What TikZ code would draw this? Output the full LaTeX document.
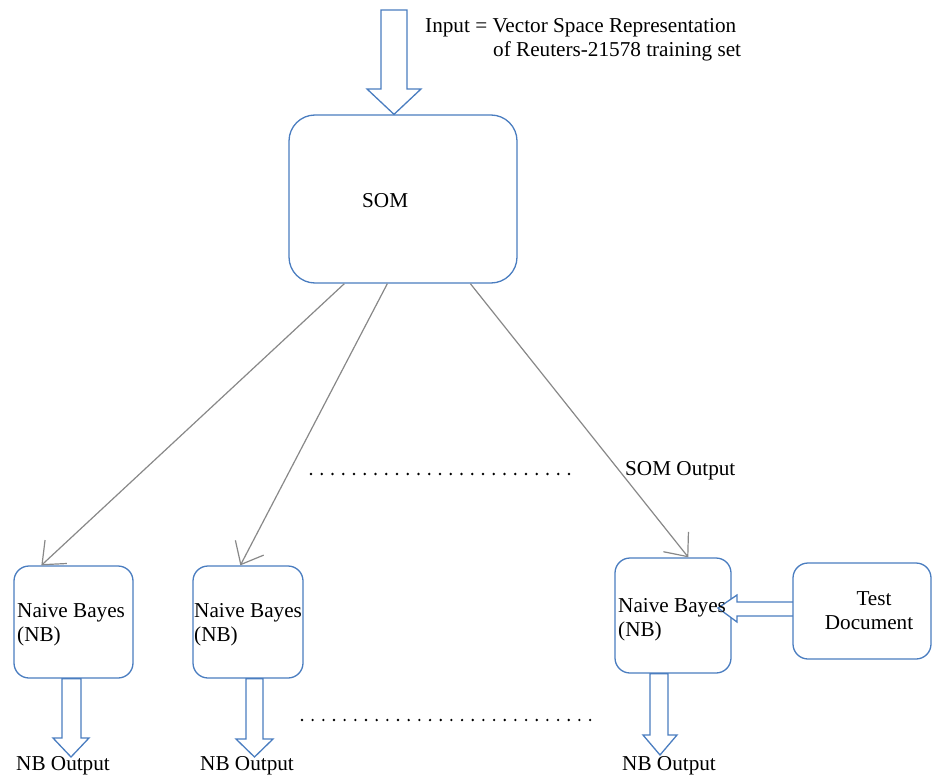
\documentclass[tikz,border=0pt]{standalone}
\usepackage{fontspec}
\setmainfont{Liberation Serif}
\usetikzlibrary{arrows.meta,calc}
\definecolor{boxblue}{HTML}{4A7DC0}
\definecolor{linegray}{HTML}{888888}
\tikzset{
  box/.style={draw=boxblue, line width=1.3pt, rounded corners=#1, inner sep=0pt, fill=white},
  lbl/.style={font=\fontsize{21.2}{24}\selectfont, inner sep=0pt, anchor=base west},
  clbl/.style={font=\fontsize{21.2}{24}\selectfont, inner sep=0pt, anchor=base},
  conn/.style={draw=linegray, line width=1.2pt, -{Straight Barb[length=19pt,width=32pt]}},
  blockarrow/.style={draw=boxblue, line width=1.3pt, fill=white, line join=miter},
}
\begin{document}
\begin{tikzpicture}[x=1pt,y=-1pt]
\useasboundingbox (0,0) rectangle (933,778);

% boxes
\node[box=26pt, minimum width=228pt, minimum height=168pt] (som) at (403,199) {};
\node[box=15pt, minimum width=119pt, minimum height=112pt] (nb1) at (73.5,622) {};
\node[box=15pt, minimum width=110pt, minimum height=112pt] (nb2) at (248,622) {};
\node[box=15pt, minimum width=116pt, minimum height=115pt] (nb3) at (673,615.5) {};

% input block arrow
\draw[blockarrow] (381,10) -- (407,10) -- (407,89) -- (421,89) -- (som.north -| 394,0) -- (367,89) -- (381,89) -- cycle;

% output block arrows
\draw[blockarrow] (nb1.south -| 62,0) -- (nb1.south -| 81,0) -- (81,738) -- (89,738) -- (71,757) -- (53,738) -- (62,738) -- cycle;
\draw[blockarrow] (nb2.south -| 246,0) -- (nb2.south -| 263,0) -- (263,739) -- (273,739) -- (254.5,757) -- (236,739) -- (246,739) -- cycle;
\draw[blockarrow] (nb3.south -| 650,0) -- (nb3.south -| 668,0) -- (668,735) -- (677,735) -- (660,755) -- (643,735) -- (650,735) -- cycle;

% test document arrow
\draw[blockarrow] (795,602) -- (737,602) -- (737,595) -- (718,608) -- (737,622) -- (737,616) -- (795,616) -- cycle;
\node[box=15pt, minimum width=138pt, minimum height=96pt] (test) at (862,611) {};

% connectors from SOM
\draw[conn] ($(som.south west)+(56,0)$) -- ($(nb1.north west)+(28,0)$);
\draw[conn] ($(som.south west)+(99,0)$) -- ($(nb2.north west)+(48,0)$);
\draw[conn] ($(som.south west)+(182,0)$) -- ($(nb3.north west)+(74,0)$);

% texts
\node[lbl] (somlbl) at (362,207) {SOM};
\node[lbl] (in1) at (425,33) {Input = Vector Space Representation};
\node[lbl] (in2) at (493,57) {of Reuters-21578 training set};
\node[lbl] (somout) at (625,475) {SOM Output};

\node[lbl] (nb1a) at (17,617) {Naive Bayes};
\node[lbl] (nb1b) at (17,641) {(NB)};
\node[lbl] (nb2a) at (194,617) {Naive Bayes};
\node[lbl] (nb2b) at (194,641) {(NB)};
\node[lbl] (nb3a) at (618,612) {Naive Bayes};
\node[lbl] (nb3b) at (618,636) {(NB)};

\node[clbl] (testa) at (874,605) {Test};
\node[clbl] (testb) at (869,629) {Document};

\node[lbl] (out1) at (16,770) {NB Output};
\node[lbl] (out2) at (200,770) {NB Output};
\node[lbl] (out3) at (622,770) {NB Output};

% dots
\foreach \i in {0,...,24} \fill (311+\i*10.75,474) circle (1.3pt);
\foreach \i in {0,...,27} \fill (302+\i*10.67,720) circle (1.3pt);
\end{tikzpicture}
\end{document}
